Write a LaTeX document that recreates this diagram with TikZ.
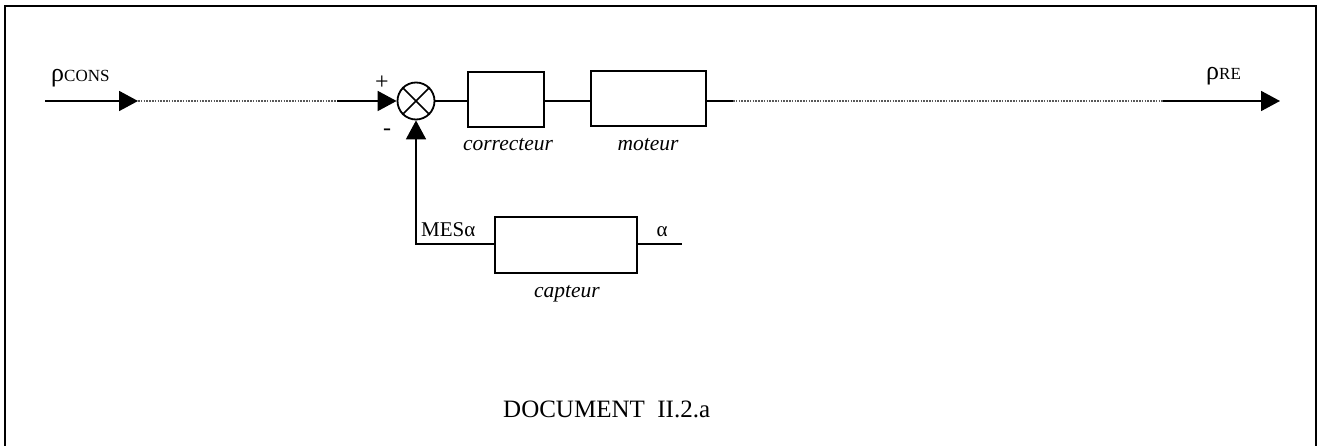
\documentclass[tikz,border=0pt]{standalone}
\usepackage{fontspec}
\setmainfont{Liberation Serif}
\usetikzlibrary{arrows.meta}
\begin{document}
\begin{tikzpicture}[x=1pt,y=-1pt,
  conn/.style={line width=1.8pt},
  dotline/.style={line width=1.2pt,draw=black!65,dash pattern=on 1.6pt off 1.2pt},
  arr/.style={-{Triangle[length=19pt,width=20pt]}},
  blockbox/.style={draw,line width=2pt,inner sep=0pt},
  lab/.style={font=\fontsize{21.5}{24}\selectfont\itshape,inner sep=0pt},
  txt/.style={font=\fontsize{21}{24}\selectfont,inner sep=0pt}
]
\useasboundingbox (0,0) rectangle (1320,446);
% frame
\draw[line width=2.4pt] (5,470) -- (5,6) -- (1316,6) -- (1316,470);

% nodes
\node[draw,circle,line width=1.8pt,minimum size=37pt,inner sep=0pt] (sum) at (416,101) {};
\draw[line width=1.5pt] (sum.north west) -- (sum.south east);
\draw[line width=1.5pt] (sum.north east) -- (sum.south west);
\node[blockbox,minimum width=76pt,minimum height=55pt] (cor) at (506,100) {};
\node[blockbox,minimum width=115pt,minimum height=55pt] (mot) at (648,99) {};
\node[blockbox,minimum width=142pt,minimum height=56pt] (cap) at (566,245) {};

\coordinate (in) at (45,101);
\coordinate (d1) at (138,101);
\coordinate (d2) at (337,101);
\coordinate (o1) at (733,101);
\coordinate (o2) at (1163,101);
\coordinate (out) at (1280,101);
\coordinate (al) at (682,244);
\coordinate (fb) at (416,244);

% connectors
\draw[conn,arr] (in) -- (d1);
\draw[dotline] (d1) -- (d2);
\draw[conn,arr] (d2) -- (sum.west);
\draw[conn] (sum.east) -- (cor.west |- sum.east);
\draw[conn] (cor.east |- sum.east) -- (mot.west |- sum.east);
\draw[conn] (mot.east |- sum.east) -- (o1);
\draw[dotline] (o1) -- (o2);
\draw[conn,arr] (o2) -- (out);
\draw[conn] (cap.east |- al) -- (al);
\draw[conn,arr] (cap.west |- fb) -- (fb) -- (sum.south);

% labels
\node[txt,anchor=base west] (pcons) at (51,82) {\fontsize{26}{28}\selectfont ρ\fontsize{17}{18}\selectfont CONS};
\node[txt,anchor=base west] (pre) at (1206,80) {\fontsize{26}{28}\selectfont ρ\fontsize{17}{18}\selectfont RE};
\node[txt,font=\fontsize{24}{24}\selectfont] (plus) at (382,83) {+};
\node[txt,font=\fontsize{24}{24}\selectfont] (minus) at (387,132) {-};
\node[lab,anchor=base] (lcor) at (508,151) {correcteur};
\node[lab,anchor=base] (lmot) at (648,151) {moteur};
\node[lab,anchor=base] (lcap) at (567,298) {capteur};
\node[txt,anchor=base west] (mes) at (421,237) {MESα};
\node[txt,anchor=base] (alpha) at (662,237) {α};
\node[txt,anchor=base west,font=\fontsize{25}{28}\selectfont] (doc) at (503,417) {DOCUMENT\ \ II.2.a};
\end{tikzpicture}
\end{document}
